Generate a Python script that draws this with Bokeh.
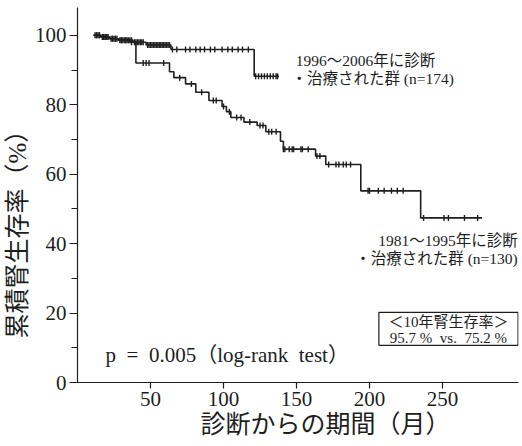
import numpy as np
from bokeh.plotting import figure
from bokeh.models import Label, Title, FixedTicker, SingleIntervalTicker, ColumnDataSource
from bokeh.embed import file_html
from bokeh.resources import INLINE

# ---- data ----
g1_time = [11, 16, 22, 28, 38, 47, 64, 121, 138]
g1_surv = [100, 99.5, 99.0, 98.6, 98.0, 97.2, 95.9, 88.2, 88.2]
g1_cens = [12, 13, 14, 15, 17, 18, 19, 20, 21, 23, 24, 25, 26, 27, 29, 30, 31, 32, 33,
           34, 35, 36, 37, 39, 40, 41, 42, 43, 44, 45, 48, 49, 50, 51, 52, 53, 54, 55,
           56, 57, 58, 59, 60, 61, 62, 63, 65, 68, 74, 77, 81, 84, 87, 91, 94, 99, 103,
           106, 110, 113, 117, 122, 124, 126, 128, 130, 132, 134, 136, 137]

g2_time = [11, 16, 22, 28, 36, 40, 63, 66, 74, 81, 90, 99, 102, 105, 114, 123, 129,
           139, 141, 163, 170, 194, 235, 277]
g2_surv = [100, 99.5, 99.0, 98.6, 98.0, 92.0, 89.5, 87.8, 86.0, 83.6, 81.2, 79.5, 78.0,
           76.3, 75.0, 74.0, 72.2, 69.5, 67.2, 65.2, 62.8, 55.2, 47.4, 47.4]
g2_cens = [13, 15, 18, 20, 24, 26, 30, 33, 37, 45, 47, 49, 59, 70, 78, 85, 93, 95, 100,
           104, 109, 112, 118, 125, 127, 131, 133, 136, 141, 142, 145, 147, 148, 153,
           154, 158, 164, 166, 172, 177, 179, 182, 184, 187, 199, 200, 206, 210, 215,
           219, 223, 237, 251, 254, 265, 274]

x_ticks = [50, 100, 150, 200, 250]
g1_label = ["1996～2006年に診断", "・治療された群 (n=174)"]
g2_label = ["1981～1995年に診断", "・治療された群 (n=130)"]
box_label = ["＜10年腎生存率＞", "95.7\u00a0%\u00a0\u00a0vs.\u00a0\u00a075.2\u00a0%"]
p_label = "p\u00a0\u00a0=\u00a0\u00a00.005（log-rank\u00a0\u00a0test）"
x_title = "診断からの期間（月）"
y_title = "累積腎生存率（%）"

FONT = "Liberation Serif, Noto Sans CJK JP"
INK = "#1e1e1e"

p = figure(width=522, height=446, x_range=(0, 302), y_range=(0, 108),
           output_backend="svg", toolbar_location=None,
           min_border_left=77, min_border_right=4, min_border_top=7, min_border_bottom=64)
p.outline_line_color = None
p.grid.visible = False
p.background_fill_color = "white"
p.border_fill_color = "white"


def censor_y(times, surv, cens):
    idx = np.searchsorted(np.array(times), np.array(cens), side="right") - 1
    return list(np.array(surv)[idx])


for t, s, c in [(g1_time, g1_surv, g1_cens), (g2_time, g2_surv, g2_cens)]:
    p.step(t, s, mode="after", line_color=INK, line_width=1.6)
    src = ColumnDataSource(dict(x=c, y=censor_y(t, s, c)))
    p.scatter("x", "y", source=src, marker="dash", angle=np.pi / 2, size=6,
              line_color=INK, line_width=1.4)

# axes
xa = p.xaxis[0]
xa.ticker = FixedTicker(ticks=x_ticks)
ya = p.yaxis[0]
ya.ticker = SingleIntervalTicker(interval=20, num_minor_ticks=2)
for ax in (xa, ya):
    ax.axis_line_color = INK
    ax.axis_line_width = 1.2
    ax.major_tick_line_color = INK
    ax.major_tick_line_width = 1.2
    ax.major_tick_in = 0
    ax.major_label_text_font = FONT
    ax.major_label_text_font_size = "21px"
    ax.major_label_text_color = INK
xa.major_tick_out = 6
xa.minor_tick_line_color = None
ya.major_tick_out = 8
ya.minor_tick_out = 6
ya.minor_tick_in = 0
ya.minor_tick_line_color = INK
ya.minor_tick_line_width = 1.2
ya.major_label_standoff = 3
xa.major_label_standoff = 3

# axis titles as side-panel titles (allow an offset along the axis)
p.add_layout(Title(text=x_title, align="left", offset=123, text_font=FONT,
                   text_font_size="25px", text_font_style="normal",
                   text_color=INK, standoff=1), "below")
p.add_layout(Title(text=y_title, align="left", offset=44, text_font=FONT,
                   text_font_size="25px", text_font_style="normal",
                   text_color=INK, standoff=1), "left")


def lab(x, y, text, size, align="left"):
    p.add_layout(Label(x=x, y=y, text=text, text_font=FONT, text_font_size=size,
                       text_color=INK, text_align=align, text_baseline="middle"))


# group labels
lab(149.5, 92.8, g1_label[0], "15.5px")
lab(146.5, 87.6, g1_label[1], "15.5px")
lab(301.5, 40.9, g2_label[0], "15.5px", align="right")
lab(301.5, 35.7, g2_label[1], "15.5px", align="right")

# box
p.quad(left=[206.4], right=[301.7], bottom=[10.7], top=[20.2],
       fill_color="white", line_color=INK, line_width=1.2)
lab(254, 17.4, box_label[0], "15px", align="center")
lab(254, 12.7, box_label[1], "15px", align="center")

# p-value
lab(19.2, 7.8, p_label, "21px")

open("out.html", "w").write(file_html(p, INLINE))
